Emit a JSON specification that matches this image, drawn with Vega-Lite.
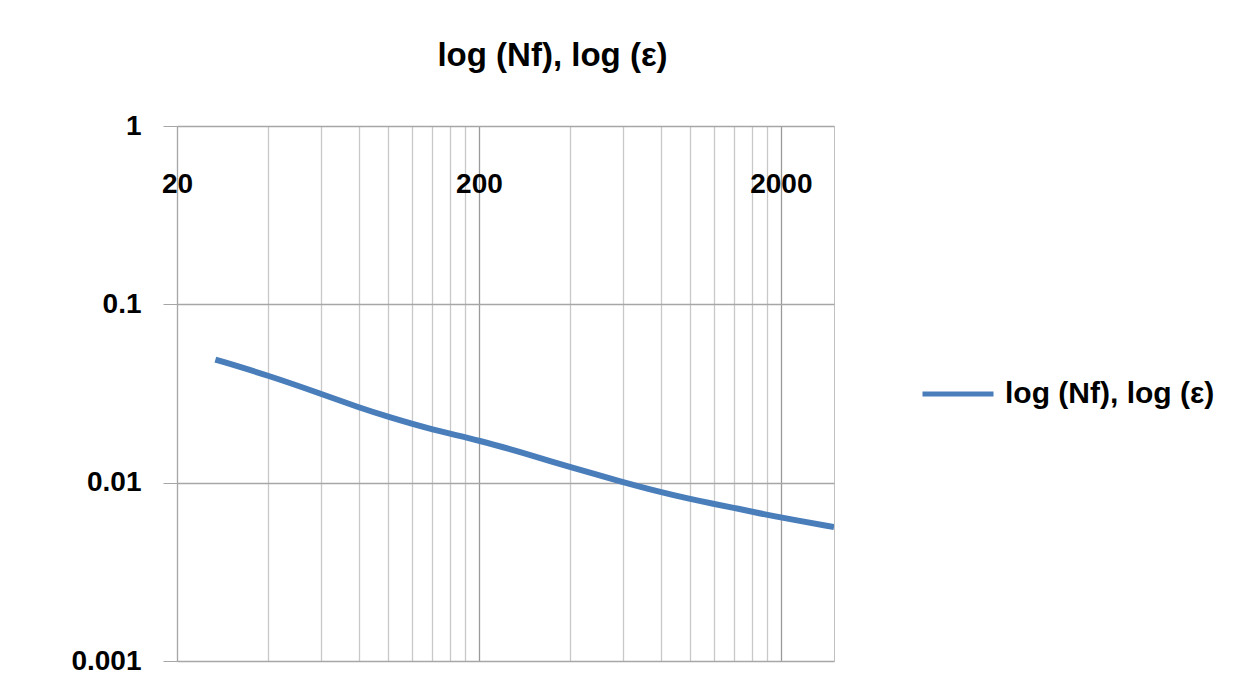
{
  "$schema": "https://vega.github.io/schema/vega-lite/v6.json",
  "autosize": {"type": "none"},
  "width": 657,
  "height": 535,
  "padding": {"left": 177, "top": 126, "right": 418, "bottom": 33},
  "background": "white",
  "title": {
    "text": "log (Nf), log (ε)",
    "font": "Liberation Sans",
    "fontSize": 33,
    "fontWeight": "bold",
    "color": "black",
    "anchor": "middle",
    "baseline": "alphabetic",
    "dx": 47,
    "offset": 13
  },
  "config": {
    "view": {"stroke": "#c0c0c0", "strokeWidth": 1},
    "axis": {
      "labelFont": "Liberation Sans",
      "labelFontSize": 28,
      "labelFontWeight": "bold",
      "labelColor": "black"
    }
  },
  "data": {
    "values": [
      {"N": 26.8, "e": 0.049, "series": "log (Nf), log (ε)"},
      {"N": 40, "e": 0.0400, "series": "log (Nf), log (ε)"},
      {"N": 60, "e": 0.0315, "series": "log (Nf), log (ε)"},
      {"N": 80, "e": 0.0264, "series": "log (Nf), log (ε)"},
      {"N": 100, "e": 0.0234, "series": "log (Nf), log (ε)"},
      {"N": 140, "e": 0.0198, "series": "log (Nf), log (ε)"},
      {"N": 200, "e": 0.0173, "series": "log (Nf), log (ε)"},
      {"N": 300, "e": 0.0142, "series": "log (Nf), log (ε)"},
      {"N": 400, "e": 0.01224, "series": "log (Nf), log (ε)"},
      {"N": 600, "e": 0.01007, "series": "log (Nf), log (ε)"},
      {"N": 800, "e": 0.00885, "series": "log (Nf), log (ε)"},
      {"N": 1000, "e": 0.00810, "series": "log (Nf), log (ε)"},
      {"N": 1200, "e": 0.00760, "series": "log (Nf), log (ε)"},
      {"N": 1400, "e": 0.00722, "series": "log (Nf), log (ε)"},
      {"N": 1600, "e": 0.00688, "series": "log (Nf), log (ε)"},
      {"N": 2000, "e": 0.00637, "series": "log (Nf), log (ε)"},
      {"N": 3000, "e": 0.00564, "series": "log (Nf), log (ε)"}
    ]
  },
  "mark": {"type": "line", "strokeWidth": 6, "interpolate": "basis", "clip": true},
  "encoding": {
    "x": {
      "field": "N",
      "type": "quantitative",
      "scale": {"type": "log", "domain": [20, 3000], "nice": false},
      "axis": {
        "title": null,
        "orient": "bottom",
        "values": [20, 40, 60, 80, 100, 120, 140, 160, 180, 200, 400, 600, 800, 1000, 1200, 1400, 1600, 1800, 2000],
        "format": "d",
        "labelExpr": "datum.value == 20 || datum.value == 200 || datum.value == 2000 ? datum.label : ''",
        "labelOverlap": false,
        "labelFlush": false,
        "labelBaseline": "middle",
        "labelPadding": -477,
        "ticks": false,
        "tickSize": 0,
        "domain": false,
        "grid": true,
        "gridColor": {"condition": {"test": "datum.value == 20 || datum.value == 200 || datum.value == 2000", "value": "#9a9a9a"}, "value": "#c8c8c8"},
        "gridWidth": 1.3
      }
    },
    "y": {
      "field": "e",
      "type": "quantitative",
      "scale": {"type": "log", "domain": [0.001, 1], "nice": false},
      "axis": {
        "title": null,
        "values": [1, 0.1, 0.01, 0.001],
        "format": "~g",
        "grid": true,
        "gridColor": "#a6a6a6",
        "gridWidth": 1.3,
        "ticks": true,
        "tickSize": 14,
        "tickColor": "#a6a6a6",
        "domain": true,
        "domainColor": "#a6a6a6",
        "labelPadding": 22,
        "labelAlign": "right",
        "labelBaseline": "middle"
      }
    },
    "color": {
      "field": "series",
      "type": "nominal",
      "scale": {"range": ["#4A7EBB"]},
      "legend": {
        "title": null,
        "orient": "none",
        "legendX": 743,
        "legendY": 230,
        "padding": 0,
        "symbolType": "stroke",
        "symbolSize": 5041,
        "symbolStrokeWidth": 5,
        "labelFont": "Liberation Sans",
        "labelFontSize": 30,
        "labelFontWeight": "bold",
        "labelColor": "black",
        "labelOffset": 9,
        "labelLimit": 400
      }
    }
  }
}
